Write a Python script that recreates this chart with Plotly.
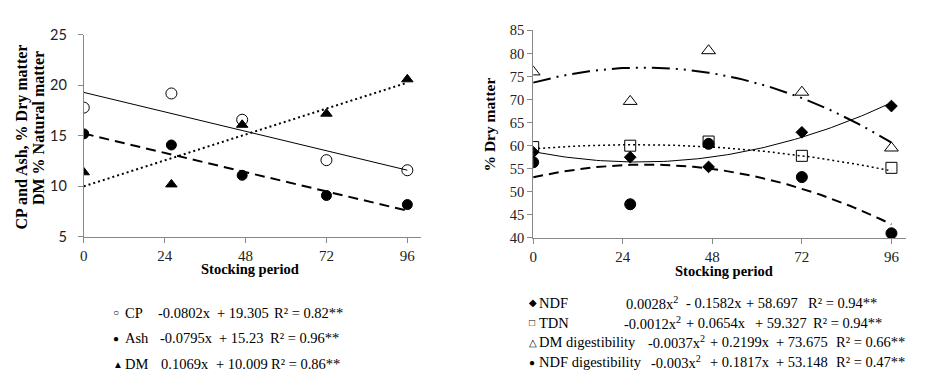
import numpy as np
import plotly.graph_objects as go

# ---------------- data ----------------
periods = [0, 26, 47, 72, 96]          # plotted x positions of observations
x_ticks = [0, 24, 48, 72, 96]

cp  = [17.8, 19.2, 16.6, 12.6, 11.6]
ash = [15.2, 14.1, 11.1, 9.1, 8.2]
dm  = [11.4, 10.2, 16.1, 17.2, 20.6]

ndf     = [58.6, 57.5, 55.4, 62.9, 68.6]
tdn     = [59.7, 60.0, 60.9, 57.8, 55.2]
dm_dig  = [76.0, 69.6, 80.6, 71.6, 59.5]
ndf_dig = [56.4, 47.3, 60.4, 53.2, 41.0]

# trend-line coefficients shown in the legends
cp_fit  = [-0.0802, 19.305]
ash_fit = [-0.0795, 15.23]
dm_fit  = [0.1069, 10.009]
ndf_fit     = [0.0028, -0.1582, 58.697]
tdn_fit     = [-0.0012, 0.0654, 59.327]
dm_dig_fit  = [-0.0037, 0.2199, 73.675]
ndf_dig_fit = [-0.003, 0.1817, 53.148]

W, H = 944, 382
# map target pixel positions to paper fractions (compensating the capture offset/scale)
SX, OX, SY, OY = 0.9926, 3.5, 0.96, 8.0
def px(x): return (x - OX) / SX / W
def py(y): return 1 - (y - OY) / SY / H

xs = np.linspace(0, 96, 97)

fig = go.Figure()
BLACK = "#000000"

def trend(coefs, xaxis, yaxis, dash, width):
    fig.add_trace(go.Scatter(x=xs, y=np.polyval(coefs, xs), mode="lines",
                             line=dict(color=BLACK, dash=dash, width=width),
                             xaxis=xaxis, yaxis=yaxis, showlegend=False, hoverinfo="skip"))

def pts(vals, symbol, size, xaxis, yaxis, lw=1):
    fig.add_trace(go.Scatter(x=periods, y=vals, mode="markers",
                             marker=dict(symbol=symbol, size=size, color=BLACK,
                                         line=dict(color=BLACK, width=lw)),
                             xaxis=xaxis, yaxis=yaxis, showlegend=False))

# left panel
trend(cp_fit, "x", "y", "solid", 1)
trend(ash_fit, "x", "y", "10px,6px", 2)
trend(dm_fit, "x", "y", "2px,3px", 2)
pts(cp, "circle-open", 11, "x", "y")
pts(ash, "circle", 10, "x", "y")
pts(dm, "triangle-up", 10, "x", "y")

# right panel
trend(ndf_fit, "x2", "y2", "solid", 1)
trend(tdn_fit, "x2", "y2", "2px,3px", 1.5)
trend(dm_dig_fit, "x2", "y2", "18px,6px,2px,6px,2px,6px", 2)
trend(ndf_dig_fit, "x2", "y2", "10px,6px", 2)
pts(ndf, "diamond", 9, "x2", "y2")
pts(tdn, "square-open", 11, "x2", "y2")
pts(dm_dig, "triangle-up-open", 12, "x2", "y2")
pts(ndf_dig, "circle", 11, "x2", "y2")

AX = "#888888"
serif = "Liberation Serif"
common_x = dict(range=[0, 100], tickvals=x_ticks, showline=True, linecolor=AX, linewidth=1,
                ticks="outside", ticklen=5, tickcolor=AX, showgrid=False, zeroline=False,
                tickfont=dict(family=serif, size=15, color="#222"))
fig.update_layout(
    width=W, height=H, autosize=False,
    margin=dict(l=0, r=0, t=0, b=0),
    paper_bgcolor="white", plot_bgcolor="white",
    xaxis=dict(domain=[px(83), px(419)], anchor="y", **common_x),
    yaxis=dict(domain=[py(237), py(34)], anchor="x", range=[5, 25], dtick=5,
               showline=True, linecolor=AX, ticks="outside", ticklen=5, tickcolor=AX,
               showgrid=False, zeroline=False, ticklabelstandoff=8,
               tickfont=dict(family="Lato", size=14.5, color="#222")),
    xaxis2=dict(domain=[px(531), px(903)], anchor="y2", **common_x),
    yaxis2=dict(domain=[py(238), py(29.5)], anchor="x2", range=[40, 85], dtick=5,
                showline=True, linecolor=AX, ticks="outside", ticklen=5, tickcolor=AX,
                showgrid=False, zeroline=False,
                tickfont=dict(family=serif, size=14.5, color="#222")),
)

def ann(text, x, y, size=14, bold=False, angle=0, xanchor="center"):
    fig.add_annotation(text=f"<b>{text}</b>" if bold else text, x=px(x), y=py(y),
                       xref="paper", yref="paper", showarrow=False, xanchor=xanchor,
                       yanchor="middle", textangle=angle, borderpad=0, borderwidth=0,
                       font=dict(family=serif, size=size, color=BLACK))

ann("Stocking period", 249, 269, 14.5, True)
ann("Stocking period", 721, 271, 14.5, True)
ann("CP and Ash, % Dry matter", 21, 136.5, 16, True, -90)
ann("DM % Natural matter", 38, 128, 16, True, -90)
ann("% Dry matter", 487, 124, 15.5, True, -90)

def sym(c, s=10):
    return f'<span style="font-size:{s}px">{c}</span>'

FS = 14.5
# left legend rows: (symbol, name, slope, intercept, r2, y) and x positions
left_rows = [
    ("○", "CP",  "-0.0802x", "+ 19.305", "R² = 0.82**", 313, (157, 216, 273)),
    ("●", "Ash", "-0.0795x", "+ 15.23",  "R² = 0.96**", 339, (159, 218, 269)),
    ("▲", "DM",  "0.1069x",  "+ 10.009", "R² = 0.86**", 365, (160, 215, 270)),
]
for s, name, a, b, r2, y, (xa, xb, xr) in left_rows:
    ann(sym(s), 112, y, FS, False, 0, "left")
    ann(name, 124, y, FS, False, 0, "left")
    ann(a, xa, y, FS, False, 0, "left")
    ann(b, xb, y, FS, False, 0, "left")
    ann(r2, xr, y, FS, False, 0, "left")

right_rows = [
    ("◆", "NDF", "0.0028x<sup>2</sup>", "- 0.1582x", "+ 58.697", "R² = 0.94**", 303, (624, 683, 743, 805)),
    ("□", "TDN", "-0.0012x<sup>2</sup>", "+ 0.0654x", "+ 59.327", "R² = 0.94**", 323, (622, 683, 752, 810)),
    ("△", "DM digestibility", "-0.0037x<sup>2</sup>", "+ 0.2199x", "+ 73.675", "R² = 0.66**", 343, (645, 707, 773, 833)),
    ("●", "NDF digestibility", "-0.003x<sup>2</sup>", "+ 0.1817x", "+ 53.148", "R² = 0.47**", 363, (648, 707, 773, 833)),
]
for s, name, a, b, c, r2, y, (xa, xb, xc, xr) in right_rows:
    ann(sym(s), 527, y, FS, False, 0, "left")
    ann(name, 537, y, FS, False, 0, "left")
    ann(a, xa, y, FS, False, 0, "left")
    ann(b, xb, y, FS, False, 0, "left")
    ann(c, xc, y, FS, False, 0, "left")
    ann(r2, xr, y, FS, False, 0, "left")

fig.write_html(
    "out.html",
    config={"displayModeBar": False, "staticPlot": True},
    post_script=("document.documentElement.style.margin='0';document.body.style.margin='0';"
                 "document.documentElement.style.overflow='hidden';document.body.style.overflow='hidden';"
                 "var d=document.getElementById('{plot_id}');d.style.position='fixed';"
                 "d.style.left='0px';d.style.top='0px';"),
)
